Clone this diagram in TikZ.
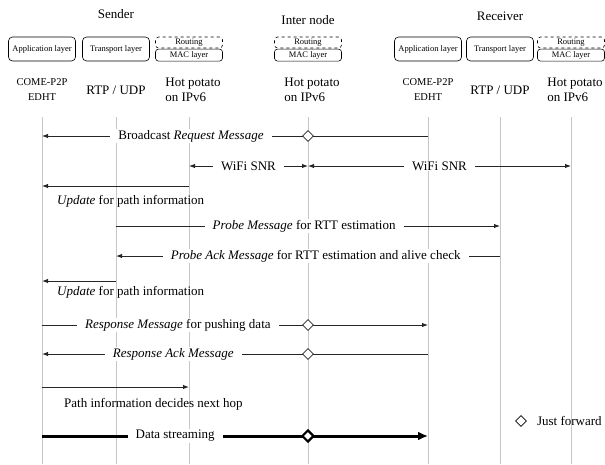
\documentclass[tikz,border=0pt]{standalone}
\usepackage{fontspec}
\setmainfont{Liberation Serif}
\usetikzlibrary{positioning,shapes.geometric,arrows.meta}

\begin{document}
\begin{tikzpicture}[x=1pt, y=-1pt,
    life/.style={draw=gray!45, line width=0.6pt},
    msg/.style={>={Latex[length=6pt,width=4.5pt]}, draw=black!85, line width=1pt},
    stream/.style={-{Latex[length=10pt,width=9pt]}, draw=black, line width=3pt},
    layer/.style={rectangle, draw, rounded corners=4pt, line width=0.6pt, minimum width=67pt, minimum height=24pt, inner sep=1pt, font=\fontsize{8.5}{10}\selectfont},
    routing/.style={rectangle, draw, dashed, rounded corners=3pt, line width=0.6pt, minimum width=67pt, minimum height=11pt, inner sep=0pt, font=\fontsize{8.5}{10}\selectfont},
    mac/.style={rectangle, draw, rounded corners=3pt, line width=0.6pt, minimum width=67pt, minimum height=12pt, inner sep=0pt, font=\fontsize{8.5}{10}\selectfont},
    head/.style={font=\fontsize{13}{15}\selectfont},
    proto/.style={font=\fontsize{13}{15}\selectfont, align=left},
    app/.style={font=\fontsize{10.5}{15}\selectfont, align=center},
    onl/.style={fill=white, inner xsep=8pt, inner ysep=1pt, font=\fontsize{13}{15}\selectfont},
    note/.style={anchor=west, inner sep=0pt, font=\fontsize{13}{15}\selectfont},
    fwd/.style={diamond, draw, fill=white, line width=0.7pt, minimum size=11pt, inner sep=0pt}
]
\useasboundingbox (0,0) rectangle (605,464);

% lifelines
\foreach \n/\x in {A/42, B/116, C/189, D/308, E/428, F/500, G/571} {
    \coordinate (\n) at (\x,117);
    \coordinate (\n end) at (\x,464);
    \draw[life] (\n) -- (\n end);
}

% message rows
\foreach \r/\y in {1/136, 2/166, 3/186, 4/226, 5/256, 6/281, 7/325, 8/354, 9/387, 10/436} {
    \coordinate (r\r) at (0,\y);
}

% hosts
\node[head] (sender) at (116,14) {Sender};
\node[head] (inter) at (308,20) {Inter node};
\node[head] (receiver) at (500,16) {Receiver};

\node[layer] (appS) at (42,49) {Application layer};
\node[layer] (tpS) at (116,49) {Transport layer};
\node[routing] (rtS) at (189,42.5) {Routing};
\node[mac, below=0.5pt of rtS] (macS) {MAC layer};

\node[routing] (rtI) at (308,42.5) {Routing};
\node[mac, below=0.5pt of rtI] (macI) {MAC layer};

\node[layer] (appR) at (428,49) {Application layer};
\node[layer] (tpR) at (500,49) {Transport layer};
\node[routing] (rtR) at (571,42.5) {Routing};
\node[mac, below=0.5pt of rtR] (macR) {MAC layer};

\node[app] (edhtS) at (42,90) {COME-P2P\\EDHT};
\node[head] (rtpS) at (116,90) {RTP / UDP};
\node[proto] (hpS) at (193,90) {Hot potato\\on IPv6};
\node[proto] (hpI) at (312,90) {Hot potato\\on IPv6};
\node[app] (edhtR) at (428,90) {COME-P2P\\EDHT};
\node[head] (rtpR) at (500,90) {RTP / UDP};
\node[proto] (hpR) at (575,90) {Hot potato\\on IPv6};

% messages
\draw[msg, ->] (E |- r1) -- node[onl, pos=0.614] {Broadcast \emph{Request Message}}
                            node[fwd, pos=0.311] {} (A |- r1);

\draw[msg, <->] (C |- r2) -- node[onl, midway] {WiFi SNR} (D |- r2);
\draw[msg, <->] (D |- r2) -- node[onl, midway] {WiFi SNR} (G |- r2);

\draw[msg, ->] (C |- r3) -- (A |- r3);
\node[note] (upd1) at (57,201) {\emph{Update} for path information};

\draw[msg, ->] (B |- r4) -- node[onl, pos=0.49] {\emph{Probe Message} for RTT estimation} (F |- r4);
\draw[msg, ->] (F |- r5) -- node[onl, pos=0.48] {\emph{Probe Ack Message} for RTT estimation and alive check} (B |- r5);

\draw[msg, ->] (B |- r6) -- (A |- r6);
\node[note] (upd2) at (57,292) {\emph{Update} for path information};

\draw[msg, ->] (A |- r7) -- node[onl, pos=0.352] {\emph{Response Message} for pushing data}
                            node[fwd, pos=0.689] {} (E |- r7);
\draw[msg, ->] (E |- r8) -- node[onl, pos=0.66] {\emph{Response Ack Message}}
                            node[fwd, pos=0.311] {} (A |- r8);

\draw[msg, ->] (A |- r9) -- (C |- r9);
\node[note] (hop) at (64,404) {Path information decides next hop};

\draw[stream] (A |- r10) -- node[onl, pos=0.345] {Data streaming}
                            node[fwd, pos=0.689, line width=2.2pt, minimum size=12pt] {} (E |- r10);

% legend
\node[fwd] (key) at (521,421) {};
\node[note, right=10pt of key] (keytext) {Just forward};

\end{tikzpicture}
\end{document}
